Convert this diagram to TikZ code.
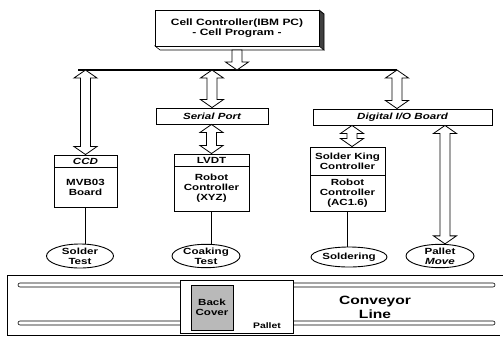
\documentclass[tikz,border=0pt]{standalone}
\usepackage{fontspec}
\setmainfont{Liberation Sans}[FakeStretch=1.3]
\usetikzlibrary{shapes.geometric,calc}
\newcommand\dblarrow[2]{%
 \path[harrow] let \p1=(#1), \p2=(#2) in
 (\x1,\y1) -- (\x1+11.5pt,\y1-8pt) -- (\x1+5pt,\y1-8pt) -- (\x1+5pt,\y2+8pt) -- (\x1+11.5pt,\y2+8pt) -- (\x1,\y2)
 -- (\x1-11.5pt,\y2+8pt) -- (\x1-5pt,\y2+8pt) -- (\x1-5pt,\y1-8pt) -- (\x1-11.5pt,\y1-8pt) -- cycle;}
\newcommand\hdownarrow[2]{%
 \path[harrow] let \p1=(#1), \p2=(#2) in
 (\x1+5pt,\y1) -- (\x1+5pt,\y2+8pt) -- (\x1+11.5pt,\y2+8pt) -- (\x1,\y2)
 -- (\x1-11.5pt,\y2+8pt) -- (\x1-5pt,\y2+8pt) -- (\x1-5pt,\y1) -- cycle;}
\begin{document}
\begin{tikzpicture}[x=1pt,y=-1pt,
 font=\bfseries\fontsize{8.9}{10}\selectfont,
 box/.style={draw, line width=0.9pt, fill=white, inner sep=0pt, align=center},
 ell/.style={draw, ellipse, line width=0.9pt, inner sep=0pt, align=center, fill=white},
 link/.style={line width=1.6pt},
 harrow/.style={draw, line width=0.8pt, fill=white, line join=miter},
 bus/.style={line width=1.8pt}]
\useasboundingbox (0,0) rectangle (503,338);

% top 3D box
\fill[black!75] (319,10) -- (324,14) -- (324,50) -- (319,46) -- cycle;
\draw[line width=0.6pt, fill=white] (155,46) -- (160,50) -- (324,50) -- (319,46) -- cycle;
\draw[line width=0.8pt] (319,10) -- (324,14) -- (324,50);
\node[box, minimum width=164, minimum height=36, font=\bfseries\fontsize{9.2}{10.5}\selectfont] (cell) at (237,28)
 {Cell Controller(IBM PC)\\- Cell Program -};

% bus
\coordinate (busL) at (78,70);
\coordinate (busR) at (397,70);
\draw[bus] (busL) -- (busR);

% boxes
\node[box, minimum width=112, minimum height=16] (serial) at (212,116) {\itshape Serial Port};
\node[box, minimum width=179, minimum height=16] (dio) at (402.5,117) {\itshape Digital I/O Board};

\node[box, minimum width=63, minimum height=12] (ccd) at (85.5,161) {\itshape CCD};
\node[box, minimum width=63, minimum height=40] (mvb) at (85.5,187) {MVB03\\Board};

\node[box, minimum width=75, minimum height=12] (lvdt) at (211.5,160) {LVDT};
\node[box, minimum width=75, minimum height=45] (rcx) at (211.5,188.5) {Robot\\Controller\\(XYZ)};

\node[box, minimum width=75, minimum height=28] (sk) at (347.5,161) {Solder King\\Controller};
\node[box, minimum width=75, minimum height=36] (rca) at (347.5,193) {Robot\\Controller\\(AC1.6)};

% links to tasks
\node[ell, minimum width=67, minimum height=24] (st) at (80,256) {Solder\\Test};
\node[ell, minimum width=68, minimum height=22] (ct) at (206,256) {Coaking\\Test};
\node[ell, minimum width=76, minimum height=20] (so) at (349,257) {Soldering};
\node[ell, minimum width=68, minimum height=23] (pm) at (440,256) {Pallet\\\itshape Move};

\draw[link] (mvb.south) -- (mvb.south |- st.north);
\draw[link] (rcx.south) -- (rcx.south |- ct.north);
\draw[link] (rca.south) -- (rca.south |- so.north);

% hollow arrows
\coordinate (cellb) at (237,50);
\hdownarrow{cellb}{cellb |- busL}
\dblarrow{ccd.north |- busL}{ccd.north}
\dblarrow{serial.north |- busL}{serial.north}
\dblarrow{busR}{busR |- dio.north}
\dblarrow{lvdt.north |- serial.south}{lvdt.north}
\coordinate (skx) at (352,0);
\dblarrow{skx |- dio.south}{skx |- sk.north}
\coordinate (pmx) at (445,0);
\dblarrow{pmx |- dio.south}{pmx |- pm.north}

% conveyor
\draw[line width=0.9pt] (503,275) -- (7,275) -- (7,335) -- (500,335);
\draw[line width=0.6pt, rounded corners=2pt] (18,283) rectangle (495,287);
\draw[line width=0.6pt, rounded corners=2pt] (18,321) rectangle (495,325);
\node[box, minimum width=113, minimum height=53] (pallet) at (236.5,306.5) {};
\node[box, fill=gray!55, minimum width=42, minimum height=45] (back) at (212,307.5) {Back\\Cover};
\node[font=\bfseries\fontsize{8}{9}\selectfont] (pl) at (267,326) {Pallet};
\node[align=center, font=\bfseries\fontsize{12}{14}\selectfont] (conv) at (375,307) {Conveyor\\Line};
\end{tikzpicture}
\end{document}
